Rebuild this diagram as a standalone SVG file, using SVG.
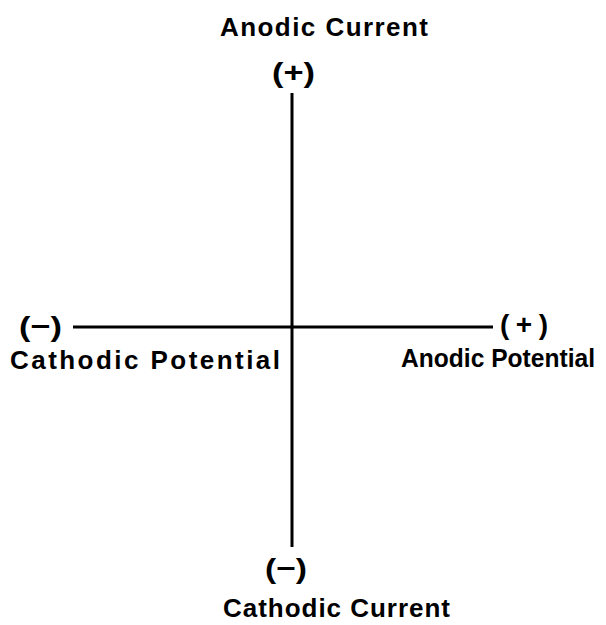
<svg xmlns="http://www.w3.org/2000/svg" width="606" height="625" viewBox="0 0 606 625">
<style>
text{font-family:"Liberation Sans",Arial,sans-serif;font-weight:bold;font-size:26px;fill:#000}
.p{font-size:28px}
.ax{stroke:#000;stroke-width:3;fill:none}
</style>
<rect width="606" height="625" fill="#fff"/>
<g id="connectors">
<line class="ax" x1="292" y1="93" x2="292" y2="547"/>
<line class="ax" x1="73" y1="327" x2="493" y2="327"/>
</g>
<g id="anodic-current">
<text x="220" y="36" textLength="208" lengthAdjust="spacing">Anodic Current</text>
<text class="p" x="272" y="82" textLength="43" lengthAdjust="spacingAndGlyphs">(+)</text>
</g>
<g id="cathodic-potential">
<text class="p" x="19" y="336" textLength="43" lengthAdjust="spacingAndGlyphs">(−)</text>
<text x="10" y="369" textLength="270" lengthAdjust="spacing">Cathodic Potential</text>
</g>
<g id="anodic-potential">
<text class="p" x="500" y="334" textLength="48" lengthAdjust="spacing">(+)</text>
<text x="401" y="367" textLength="194" lengthAdjust="spacingAndGlyphs">Anodic Potential</text>
</g>
<g id="cathodic-current">
<text class="p" x="265" y="578" textLength="42" lengthAdjust="spacingAndGlyphs">(−)</text>
<text x="223" y="617" textLength="227" lengthAdjust="spacing">Cathodic Current</text>
</g>
</svg>
